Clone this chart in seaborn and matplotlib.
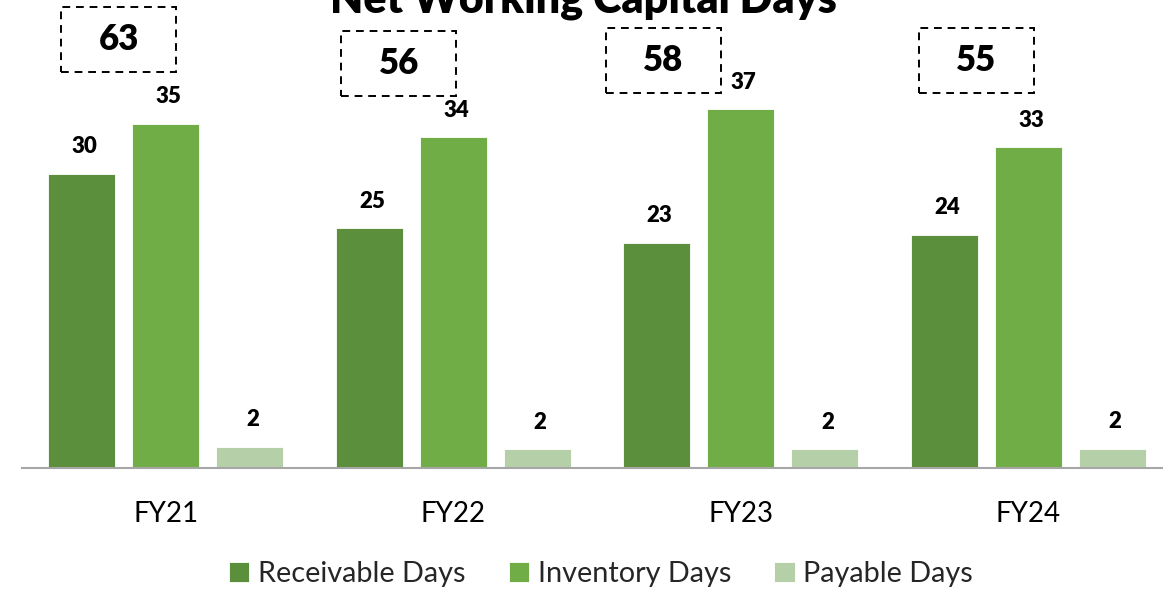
import matplotlib
matplotlib.use("Agg")
import matplotlib.pyplot as plt
from matplotlib.patches import Rectangle
import seaborn as sns
import pandas as pd

# ---- data ----
years = ["FY21", "FY22", "FY23", "FY24"]
series = ["Receivable Days", "Inventory Days", "Payable Days"]
receivable = [30.2, 24.6, 23.1, 23.9]
inventory = [35.3, 33.9, 36.8, 32.9]
payable = [2.2, 1.9, 1.9, 2.0]
nwc_days = [63, 56, 58, 55]
title = "Net Working Capital Days"

colors = ["#5B8F3B", "#70AD47", "#B5D0A8"]

rows = []
for s, vals in zip(series, [receivable, inventory, payable]):
    for y, v in zip(years, vals):
        rows.append({"Year": y, "Series": s, "Days": v})
df = pd.DataFrame(rows)

sns.set_theme(style="white")
plt.rcParams["font.family"] = ["Lato", "DejaVu Sans"]

fig = plt.figure(figsize=(11.63, 5.91), dpi=100)
ax = fig.add_axes([22 / 1163, 1 - 468 / 591, 1150 / 1163, 468 / 591])

sns.barplot(data=df, x="Year", y="Days", hue="Series", order=years,
            hue_order=series, palette=colors, saturation=1, width=0.877, gap=0.2,
            edgecolor="white", linewidth=0.6, ax=ax, errorbar=None)

ax.set_ylim(0, 48)
ax.set_xlim(-0.5, 3.5)
ax.set_xlabel("")
ax.set_ylabel("")
ax.set_yticks([])
for sp in ["left", "right", "top"]:
    ax.spines[sp].set_visible(False)
ax.spines["bottom"].set_color("#A6A6A6")
ax.spines["bottom"].set_linewidth(1.5)
ax.tick_params(axis="x", length=0, pad=24, labelsize=20, labelcolor="#000000")

# value labels
for cont in ax.containers:
    for bar in cont:
        h = bar.get_height()
        ax.annotate(f"{h:.0f}", (bar.get_x() + bar.get_width() / 2 + 0.01, h),
                    xytext=(0, 19.5), textcoords="offset points",
                    ha="center", va="center", fontsize=16, fontweight="heavy",
                    color="#000000")

# NWC boxes (layout offsets)
box_dx = [-0.163, -0.19, -0.27, -0.18]
box_y = [43.9, 41.5, 41.8, 41.8]
bw, bh = 0.4, 6.67
for i, (val, dx, yc) in enumerate(zip(nwc_days, box_dx, box_y)):
    xc = i + dx
    ax.add_patch(Rectangle((xc - bw / 2, yc - bh / 2), bw, bh, fill=False,
                           edgecolor="#000000", linestyle=(0, (4, 3)),
                           linewidth=1.4, clip_on=False))
    ax.text(xc, yc, str(val), ha="center", va="center", fontsize=25,
            fontweight="heavy", color="#000000")

fig.text(583 / 1163, 1 - 13 / 591, title, ha="center", va="baseline",
         fontsize=31, fontweight="heavy", color="#000000")

handles, labels = ax.get_legend_handles_labels()
ax.legend(handles, labels, loc="center", bbox_to_anchor=(601 / 1163, 1 - 574 / 591),
          bbox_transform=fig.transFigure, ncol=3, frameon=False, fontsize=20.8,
          handlelength=0.7, handleheight=0.7, handletextpad=0.3,
          columnspacing=1.5)

fig.savefig("out.png", dpi=100)
